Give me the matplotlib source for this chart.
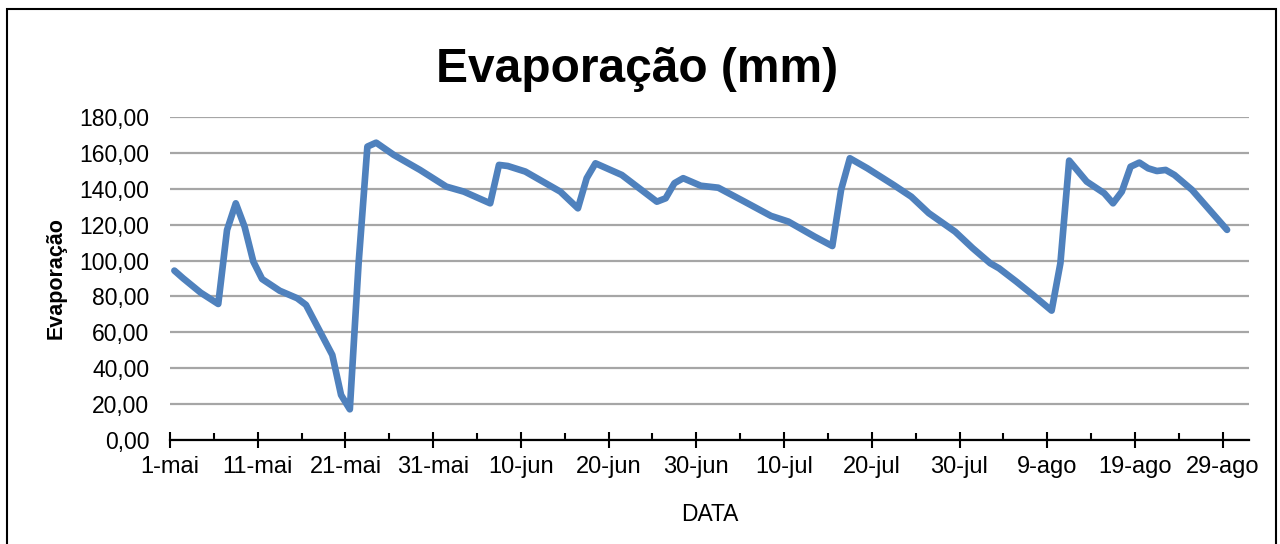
import matplotlib
matplotlib.use("Agg")
import matplotlib.pyplot as plt
from matplotlib.patches import Rectangle
from matplotlib.ticker import FixedLocator, FuncFormatter

plt.rcParams['font.family'] = ['Liberation Sans', 'DejaVu Sans']

# day offset from 1-mai, evaporation (mm)
day = [0, 1, 3, 5, 6, 7, 8, 9, 10, 12, 14, 15, 18, 19, 20, 21, 22, 23, 25, 28,
       31, 33, 36, 37, 38, 40, 44, 46, 47, 48, 51, 55, 56, 57, 58, 60, 62, 65, 68, 70,
       73, 75, 76, 77, 79, 82, 84, 86, 89, 91, 93, 94, 96, 98, 100, 101, 102, 104, 106, 107,
       108, 109, 110, 111, 112, 113, 114, 116, 120]
evap = [94.4, 90.1, 82.1, 75.8, 117.0, 131.9, 118.9, 99.4, 89.7, 83.2, 79.0, 75.3, 47.4, 25.1, 17.1, 98.5, 163.5, 165.7, 158.9, 150.5,
        141.2, 138.4, 131.9, 153.3, 152.7, 149.6, 138.4, 129.1, 145.9, 154.2, 147.7, 132.8, 134.7, 143.1, 145.9, 141.7, 140.6, 132.8, 124.9, 121.7,
        113.3, 108.1, 139.4, 157.0, 151.4, 142.1, 135.6, 126.4, 116.1, 106.9, 98.5, 95.7, 88.2, 80.3, 72.1, 98.5, 155.7, 144.0, 137.5, 131.9,
        138.4, 152.3, 154.6, 151.4, 149.9, 150.5, 147.7, 139.4, 117.1]

tick_days = [0, 10, 20, 30, 40, 50, 60, 70, 80, 90, 100, 110, 120]
tick_labels = ['1-mai', '11-mai', '21-mai', '31-mai', '10-jun', '20-jun', '30-jun',
               '10-jul', '20-jul', '30-jul', '9-ago', '19-ago', '29-ago']
y_ticks = [0, 20, 40, 60, 80, 100, 120, 140, 160, 180]

W, H = 1280, 544
fig = plt.figure(figsize=(W / 100, H / 100), dpi=100)
fig.patch.set_facecolor('white')

# outer chart border
fig.add_artist(Rectangle((7 / W, -0.05), (1276 - 7) / W, 1.05 - 9 / H,
                         transform=fig.transFigure, fill=False,
                         edgecolor='black', linewidth=1.5))

ax = fig.add_axes([170 / W, 1 - 440 / H, (1249 - 170) / W, (440 - 117) / H])
# points sit in the middle of each day (date axis, between tick marks)
x_mid = [d + 0.5 for d in day]
ax.plot(x_mid, evap, color='#4F81BD', linewidth=4.8, solid_joinstyle='round',
        solid_capstyle='round', zorder=3, clip_on=False)

ax.set_xlim(0, 123)
ax.set_ylim(0, 180)
ax.set_yticks(y_ticks)
ax.yaxis.set_major_formatter(FuncFormatter(lambda v, p: f"{v:.2f}".replace('.', ',')))
ax.set_xticks(tick_days)
ax.set_xticklabels(tick_labels)
ax.xaxis.set_minor_locator(FixedLocator([d + 5 for d in tick_days if d + 5 <= 123]))

ax.grid(axis='y', color='#A6A6A6', linewidth=1.6, zorder=1)
ax.set_axisbelow(True)
for s in ['top', 'right', 'left']:
    ax.spines[s].set_visible(False)
ax.spines['bottom'].set_linewidth(1.6)
ax.spines['bottom'].set_zorder(2)

ax.tick_params(axis='y', length=0, pad=15, labelsize=16.5)
ax.tick_params(axis='x', which='major', direction='inout', length=11, width=1.5,
               labelsize=17, pad=6)
ax.tick_params(axis='x', which='minor', direction='in', length=5, width=1.5)

ax.set_xlabel('DATA', fontsize=16.5, labelpad=18)
ax.set_ylabel('Evaporação', fontsize=15.5, fontweight='bold')
ax.yaxis.set_label_coords(-0.0955, 0.5)

fig.text(637 / W, 1 - 69 / H, 'Evaporação (mm)', fontsize=34.5, fontweight='bold',
         ha='center', va='center')

fig.savefig('out.png', dpi=100, facecolor='white')
